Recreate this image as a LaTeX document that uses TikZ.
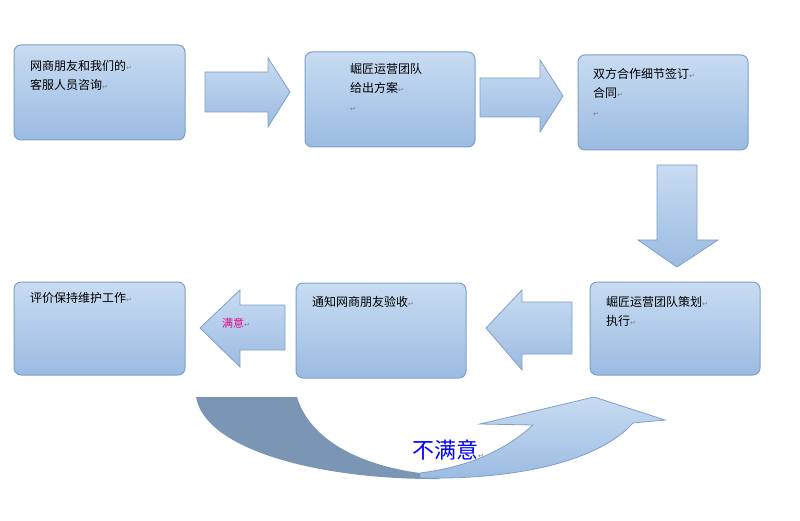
\documentclass[tikz,border=0pt]{standalone}
\usepackage{fontspec}
\setmainfont{Noto Sans CJK SC}
\newfontfamily\dv{DejaVu Sans}
\begin{document}
\begin{tikzpicture}[x=1pt,y=-1pt,
 box/.style={draw=boxline,line width=1pt,rounded corners=7pt,top color=topc,bottom color=botc},
 arr/.style={draw=boxline,line width=0.8pt,top color=topc,bottom color=botc},
 txt/.style={anchor=north west,font=\fontsize{12}{19}\selectfont,align=left,inner sep=0}]
\definecolor{boxline}{HTML}{7F9FC8}
\definecolor{topc}{HTML}{C8DCF2}
\definecolor{botc}{HTML}{9BBBE2}
\definecolor{dark}{HTML}{7A96B4}
\newcommand{\rt}{{\dv\fontsize{7}{7}\selectfont\color{gray}↵}}
\useasboundingbox (0,0) rectangle (800,521);
\path[box] (14,45) rectangle (185,140);
\node[txt] (t1) at (30,60) {网商朋友和我们的\rt\\客服人员咨询\rt};
\path[box] (305,52) rectangle (475,147);
\node[txt] (t2) at (350,63) {崛匠运营团队\\给出方案\rt\\\rt};
\path[box] (578,55) rectangle (748,150);
\node[txt] (t3) at (593,68) {双方合作细节签订\rt\\合同\rt\\\rt};
\path[box] (590,282) rectangle (760,375);
\node[txt] (t4) at (606,296) {崛匠运营团队策划\rt\\执行\rt};
\path[box] (296,283) rectangle (466,378);
\node[txt] (t5) at (312,296) {通知网商朋友验收\rt};
\path[box] (14,282) rectangle (185,375);
\node[txt] (t6) at (30,292) {评价保持维护工作\rt};
% arrows
\path[arr] (205,72) -- (268,72) -- (268,58) -- (290,92) -- (268,127) -- (268,112) -- (205,112) -- cycle;
\path[arr] (480,78) -- (540,78) -- (540,60) -- (563,96) -- (540,132) -- (540,117) -- (480,117) -- cycle;
\path[arr] (657,165) -- (697,165) -- (697,240) -- (718,240) -- (677,267) -- (638,240) -- (657,240) -- cycle;
\path[arr] (572,302) -- (522,302) -- (522,290) -- (486,328) -- (522,370) -- (522,354) -- (572,354) -- cycle;
\path[arr] (285,305) -- (240,305) -- (240,290) -- (200,328) -- (240,367) -- (240,350) -- (285,350) -- cycle;
\node[anchor=west,inner sep=0,font=\fontsize{11}{11}\selectfont,text=magenta] (ok) at (222,323) {满意\rt};
% curved arrow
\path[fill=dark] (196,397) -- (297,397) .. controls (310,440) and (360,465) .. (420,473) -- (440,479) .. controls (320,480) and (205,450) .. (196,397) -- cycle;
\path[arr] (420,473) .. controls (460,468) and (500,455) .. (533,425) -- (480,424) -- (594,397) -- (665,420) -- (633,423) .. controls (600,460) and (520,480) .. (420,478) -- cycle;
\node[inner sep=0,font=\fontsize{22}{22}\selectfont,text=blue] (no) at (448,450) {不满意\rt};
\end{tikzpicture}
\end{document}
